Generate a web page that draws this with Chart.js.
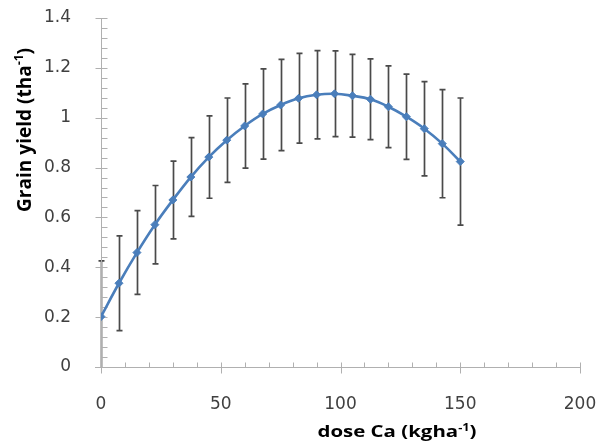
<!DOCTYPE html>
<html><head><meta charset="utf-8">
<script src="https://cdn.jsdelivr.net/npm/chart.js@4.4.1/dist/chart.umd.min.js"></script>
<style>html,body{margin:0;padding:0;background:#fff}#wrap{width:600px;height:443px;position:relative}</style>
</head><body><div id="wrap"><canvas id="c"></canvas></div>
<script>
const doses = [0, 7.5, 15, 22.5, 30, 37.5, 45, 52.5, 60, 67.5, 75, 82.5, 90, 97.5, 105, 112.5, 120, 127.5, 135, 142.5, 150];
const grainYield = [0.202, 0.336, 0.459, 0.571, 0.670, 0.762, 0.842, 0.910, 0.967, 1.015, 1.051, 1.078, 1.092, 1.096, 1.088, 1.074, 1.044, 1.004, 0.956, 0.896, 0.824];
const yieldErr = [0.224, 0.19, 0.168, 0.157, 0.156, 0.158, 0.165, 0.169, 0.169, 0.181, 0.183, 0.180, 0.177, 0.172, 0.166, 0.162, 0.164, 0.171, 0.189, 0.217, 0.255];
const xTicks = [0, 50, 100, 150, 200];
const xMinorTicks = [10, 20, 30, 40, 60, 70, 80, 90, 110, 120, 130, 140, 160, 170, 180, 190];
const yTicks = [0, 0.2, 0.4, 0.6, 0.8, 1.0, 1.2, 1.4];
const yMinorStep = 0.04;
const xTitle = ['dose Ca (kgha', '-1', ')'];
const yTitle = ['Grain yield (tha', '-1', ')'];

const AXIS_COLOR = '#b0b0b0';
const TEXT_COLOR = '#404040';
const TICK_FONT = '"DejaVu Sans", sans-serif';
const TITLE_FONT = '"Open Sans", "DejaVu Sans", sans-serif';

// draws title with superscript, centred at (0,0) baseline, stretched to a target length
function drawSupTitle(ctx, parts, size, targetLen, across) {
  const mainFont = 'bold ' + size + 'px ' + TITLE_FONT;
  const supFont = 'bold ' + Math.round(size * 0.62) + 'px ' + TITLE_FONT;
  ctx.font = mainFont; const w1 = ctx.measureText(parts[0]).width; const w3 = ctx.measureText(parts[2]).width;
  ctx.font = supFont; const w2 = ctx.measureText(parts[1]).width;
  const total = w1 + w2 + w3;
  ctx.scale(targetLen / total, across);
  let x = -total / 2;
  ctx.fillStyle = '#000';
  ctx.textBaseline = 'alphabetic'; ctx.textAlign = 'left';
  ctx.font = mainFont; ctx.fillText(parts[0], x, 0); x += w1;
  ctx.font = supFont; ctx.fillText(parts[1], x, -size * 0.4); x += w2;
  ctx.font = mainFont; ctx.fillText(parts[2], x, 0);
}

const errorBars = {
  id: 'errorBars',
  beforeDatasetsDraw(chart) {
    const {ctx, chartArea, scales: {x, y}} = chart;
    ctx.save();
    ctx.beginPath(); ctx.rect(chartArea.left - 10, chartArea.top - 10, chartArea.width + 20, chartArea.height + 10); ctx.clip();
    ctx.strokeStyle = '#4a4a4a'; ctx.lineWidth = 1.7;
    doses.forEach((d, i) => {
      const px = Math.round(x.getPixelForValue(d)) + 0.5;
      const lo = Math.max(grainYield[i] - yieldErr[i], y.min);
      const top = y.getPixelForValue(grainYield[i] + yieldErr[i]);
      const bot = y.getPixelForValue(lo);
      ctx.beginPath();
      ctx.moveTo(px, top); ctx.lineTo(px, bot);
      ctx.moveTo(px - 3, top); ctx.lineTo(px + 3, top);
      if (grainYield[i] - yieldErr[i] > y.min) { ctx.moveTo(px - 3, bot); ctx.lineTo(px + 3, bot); }
      ctx.stroke();
    });
    ctx.restore();
  }
};

const axesAndTitles = {
  id: 'axesAndTitles',
  beforeDatasetsDraw(chart) {
    const {ctx, chartArea: ca, scales: {x, y}} = chart;
    ctx.save();
    ctx.strokeStyle = AXIS_COLOR; ctx.lineWidth = 1;
    const x0 = Math.round(x.getPixelForValue(0)) + 0.5;
    const y0 = Math.round(y.getPixelForValue(0)) + 0.5;
    ctx.beginPath();
    ctx.moveTo(x0, ca.top); ctx.lineTo(x0, ca.bottom + 0.5);
    ctx.moveTo(ca.left - 6, y0); ctx.lineTo(ca.right + 0.5, y0);
    yTicks.forEach(v => { const p = Math.round(y.getPixelForValue(v)) + 0.5; ctx.moveTo(x0 - 6, p); ctx.lineTo(x0 + 6, p); });
    for (let k = 0; k < yTicks.length - 1; k++) {
      for (let m = 1; m < 5; m++) {
        const p = Math.round(y.getPixelForValue(yTicks[k] + m * yMinorStep)) + 0.5;
        ctx.moveTo(x0, p); ctx.lineTo(x0 + 6, p);
      }
    }
    xTicks.forEach(v => { const p = Math.round(x.getPixelForValue(v)) + 0.5; ctx.moveTo(p, y0 - 5); ctx.lineTo(p, y0 + 6); });
    xMinorTicks.forEach(v => { const p = Math.round(x.getPixelForValue(v)) + 0.5; ctx.moveTo(p, y0 - 5); ctx.lineTo(p, y0); });
    ctx.stroke();
    ctx.restore();
  },
  afterDraw(chart) {
    const {ctx} = chart;
    ctx.save();
    ctx.translate(397, 437);
    drawSupTitle(ctx, xTitle, 16, 159, 1);
    ctx.restore();
    ctx.save();
    ctx.translate(31, 130); ctx.rotate(-Math.PI / 2);
    drawSupTitle(ctx, yTitle, 16, 164, 1.25);
    ctx.restore();
  }
};

const zeroPad = s => { s.paddingLeft = 0; s.paddingRight = 0; s.paddingTop = 0; s.paddingBottom = 0; };

new Chart(document.getElementById('c'), {
  type: 'line',
  data: {
    datasets: [{
      data: doses.map((d, i) => ({x: d, y: grainYield[i]})),
      borderColor: '#4a7ebb', backgroundColor: '#4a7ebb',
      borderWidth: 2.6, tension: 0.4,
      pointStyle: 'rectRot', pointRadius: 4, pointBorderWidth: 1, pointHoverRadius: 4
    }]
  },
  options: {
    responsive: true, maintainAspectRatio: false, animation: false,
    layout: {padding: {top: 18, right: 20, left: 0, bottom: 0}},
    plugins: {legend: {display: false}, tooltip: {enabled: false}},
    scales: {
      x: {
        type: 'linear', min: 0, max: 200,
        afterBuildTicks: s => { s.ticks = xTicks.map(v => ({value: v})); },
        afterFit: s => { s.height = 76; zeroPad(s); },
        grid: {display: false}, border: {display: false},
        ticks: {padding: 19, color: TEXT_COLOR, font: {family: TICK_FONT, size: 17}, maxRotation: 0}
      },
      y: {
        type: 'linear', min: 0, max: 1.4,
        afterBuildTicks: s => { s.ticks = yTicks.map(v => ({value: v})); },
        afterFit: s => { s.width = 101; zeroPad(s); },
        grid: {display: false}, border: {display: false},
        ticks: {padding: 22, color: TEXT_COLOR, font: {family: TICK_FONT, size: 17},
          callback: v => String(+(+v).toFixed(1))}
      }
    }
  },
  plugins: [errorBars, axesAndTitles]
});
</script>
</body></html>
